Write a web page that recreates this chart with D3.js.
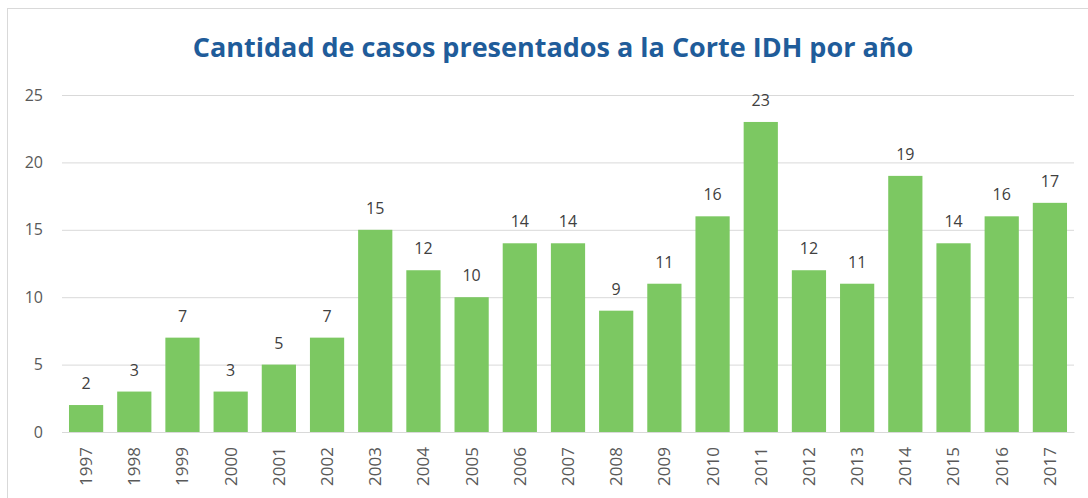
<!DOCTYPE html>
<html><head><meta charset="utf-8">
<script src="https://cdn.jsdelivr.net/npm/d3@7"></script>
<style>body{margin:0;background:#fff}</style>
</head><body>
<svg id="c" width="1088" height="498"></svg>
<script>
const years = ["1997","1998","1999","2000","2001","2002","2003","2004","2005","2006","2007","2008","2009","2010","2011","2012","2013","2014","2015","2016","2017"];
const casos = [2,3,7,3,5,7,15,12,10,14,14,9,11,16,23,12,11,19,14,16,17];
const yTicks = [0,5,10,15,20,25];
const title = "Cantidad de casos presentados a la Corte IDH por año";

const svg = d3.select("#c");
svg.append("rect").attr("x",7.5).attr("y",8.5).attr("width",1100).attr("height",520)
  .attr("fill","#fff").attr("stroke","#d9d9d9");

const m = {left:62, right:1074, top:95, bottom:432};
const x = d3.scaleBand().domain(years).range([m.left,m.right]).paddingInner(0.29).paddingOuter(0.145);
const y = d3.scaleLinear().domain([0,25]).range([m.bottom,m.top]);

svg.append("text").attr("x",553).attr("y",57).attr("text-anchor","middle")
  .attr("font-family","'Open Sans',sans-serif").attr("font-weight","bold").attr("font-size",27)
  .attr("fill","#1f5c9a").text(title);

const grid = svg.append("g").attr("transform",`translate(${m.left},0)`)
  .call(d3.axisLeft(y).tickValues(yTicks).tickSize(-(m.right-m.left)).tickPadding(19));
grid.select(".domain").remove();
grid.selectAll("line").attr("stroke","#d9d9d9");
grid.selectAll("text").attr("font-family","'Open Sans',sans-serif").attr("font-size",16).attr("fill","#595959");

svg.selectAll("rect.bar").data(casos).join("rect").attr("class","bar")
  .attr("x",(d,i)=>x(years[i])).attr("width",x.bandwidth())
  .attr("y",d=>y(d)).attr("height",d=>y(0)-y(d)).attr("fill","#7cc862");

svg.selectAll("text.lbl").data(casos).join("text").attr("class","lbl")
  .attr("x",(d,i)=>x(years[i])+x.bandwidth()/2).attr("y",d=>y(d)-16)
  .attr("text-anchor","middle").attr("font-family","'Open Sans',sans-serif").attr("font-size",16)
  .attr("fill","#404040").text(d=>d);

const xa = svg.append("g").attr("transform",`translate(0,${m.bottom})`)
  .call(d3.axisBottom(x).tickSize(0).tickPadding(0));
xa.select(".domain").attr("stroke","#d9d9d9");
xa.selectAll("text").attr("transform","rotate(-90)").attr("text-anchor","end")
  .attr("dx","-15").attr("dy","0.35em").attr("y",0)
  .attr("font-family","'Open Sans',sans-serif").attr("font-size",17).attr("fill","#595959");
</script>
</body></html>
